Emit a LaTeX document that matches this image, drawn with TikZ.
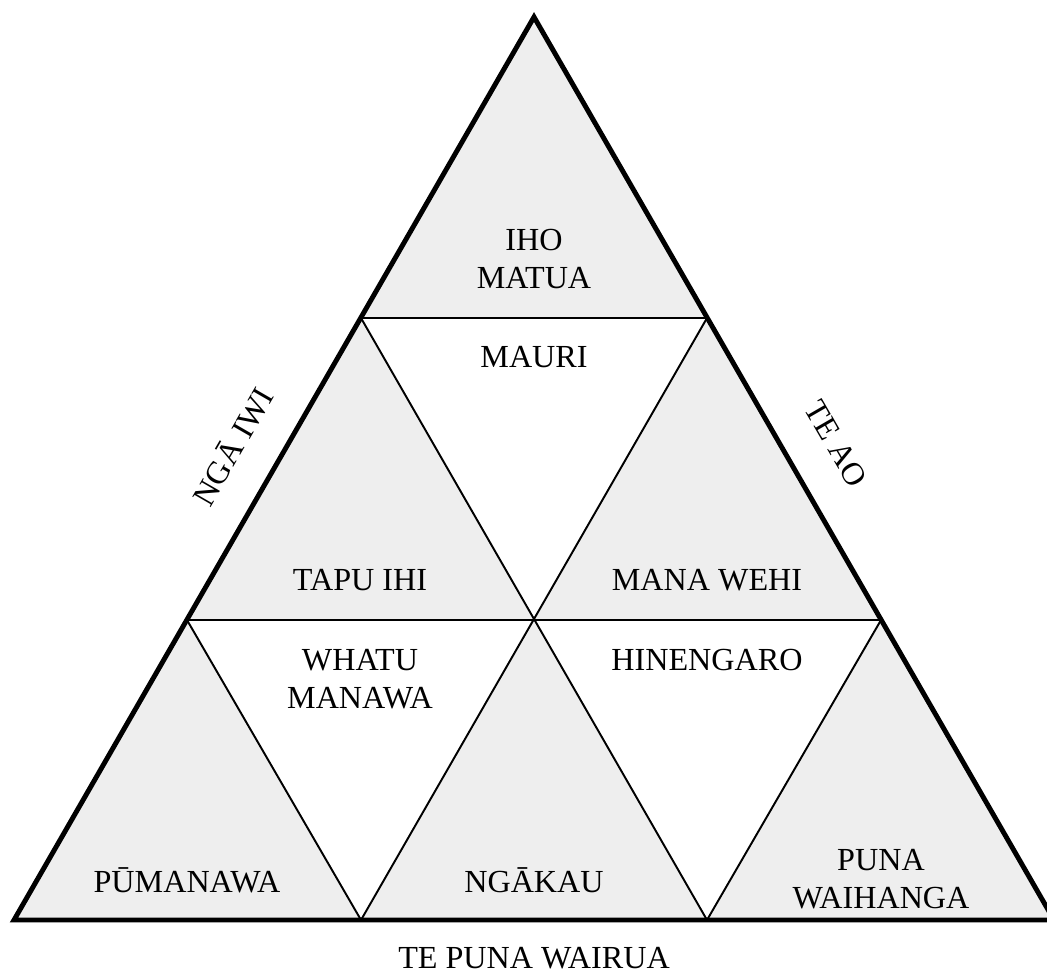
\documentclass[tikz,border=0pt]{standalone}
\usepackage{fontspec}
\setmainfont{Liberation Serif}
\definecolor{cellgray}{HTML}{EEEEEE}
\tikzset{
  cell/.style={font=\fontsize{18.3}{21.5}\selectfont,align=center},
  rim/.style={line width=2.8pt,line join=miter},
  seam/.style={line width=1.1pt}
}
\begin{document}
\begin{tikzpicture}[x=0.02cm,y=-0.02cm]
  \useasboundingbox(0,0) rectangle (1047,975);
  \clip(0,0) rectangle (1047,975);
  % corners of the big triangle and of the rows
  \coordinate(top) at (534,17);
  \coordinate(l1) at (361,318);  \coordinate(r1) at (707,318);
  \coordinate(l2) at (187,620);  \coordinate(m2) at (534,620);  \coordinate(r2) at (881,620);
  \coordinate(l3) at (14,920);   \coordinate(a3) at (361,920);
  \coordinate(b3) at (707,920);  \coordinate(r3) at (1054,920);
  % upward cells
  \fill[cellgray](top) -- (l1) -- (r1) -- cycle;
  \fill[cellgray](l1) -- (l2) -- (m2) -- cycle;
  \fill[cellgray](r1) -- (m2) -- (r2) -- cycle;
  \fill[cellgray](l2) -- (l3) -- (a3) -- cycle;
  \fill[cellgray](m2) -- (a3) -- (b3) -- cycle;
  \fill[cellgray](r2) -- (b3) -- (r3) -- cycle;
  % inner seams
  \draw[seam](l1) -- (r1);
  \draw[seam](l2) -- (r2);
  \draw[seam](l1) -- (b3);
  \draw[seam](r1) -- (a3);
  \draw[seam](l2) -- (a3);
  \draw[seam](r2) -- (b3);
  \draw[rim](top) -- (l3) -- (r3) -- cycle;
  % labels
  \node[cell](iho) at (534,259){IHO\\MATUA};
  \node[cell](mauri) at (534,357){MAURI};
  \node[cell](tapu) at (360,580){TAPU IHI};
  \node[cell](mana) at (707,580){MANA WEHI};
  \node[cell](whatu) at (360,679){WHATU\\MANAWA};
  \node[cell](hinengaro) at (707,660){HINENGARO};
  \node[cell](pumanawa) at (187,880){PŪMANAWA};
  \node[cell](ngakau) at (534,880){NGĀKAU};
  \node[cell](puna) at (881,879){PUNA\\WAIHANGA};
  \node[cell,rotate=60](iwi) at (232,446){NGĀ IWI};
  \node[cell,rotate=-60](ao) at (836,444){TE AO};
  \node[cell](wairua) at (534,958){TE PUNA WAIRUA};
\end{tikzpicture}
\end{document}
